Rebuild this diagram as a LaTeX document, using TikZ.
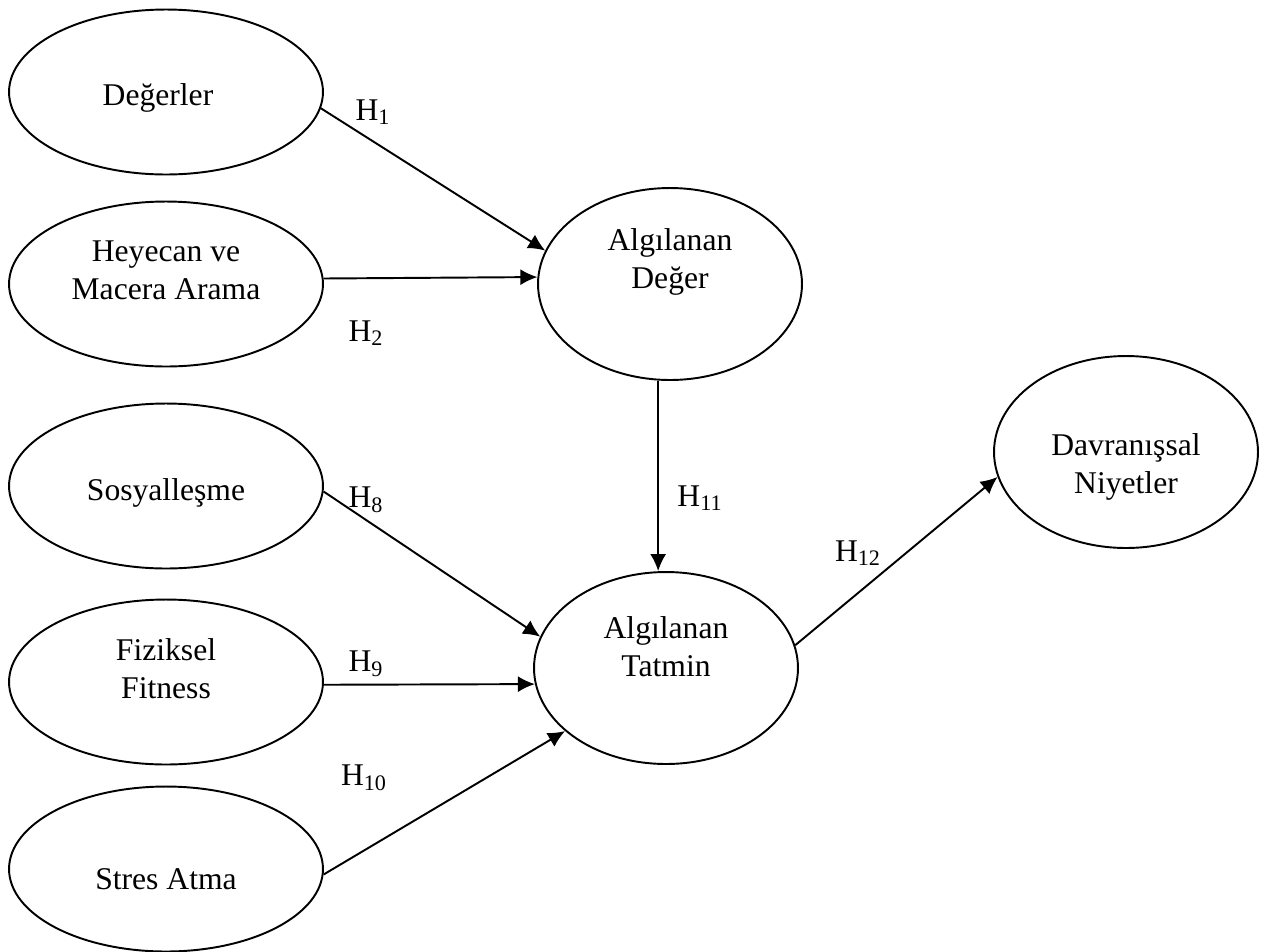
\documentclass[tikz,border=0pt]{standalone}
\usepackage{fontspec}
\setmainfont{Liberation Serif}
\usetikzlibrary{shapes.geometric,arrows.meta}

\begin{document}
\begin{tikzpicture}[x=0.02cm, y=-0.02cm, line width=1.1pt,
  kavram/.style={draw, ellipse, inner sep=0pt, minimum width=6.28cm, minimum height=3.3cm},
  sonuc/.style={draw, ellipse, inner sep=0pt, minimum width=5.28cm, minimum height=3.84cm},
  yazi/.style={align=center, inner sep=0pt, font=\fontsize{18}{21.6}\selectfont},
  etiket/.style={inner sep=0pt, font=\fontsize{18}{21.6}\selectfont},
  ok/.style={-{Latex[length=3.4mm,width=3.2mm]}}]

\useasboundingbox (0,0) rectangle (1271,951);

% left column
\node[kavram] (degerler) at (166,92) {};
\node[kavram] (heyecan) at (166,284) {};
\node[kavram] (sosyal) at (166,486) {};
\node[kavram] (fiziksel) at (166,682) {};
\node[kavram] (stres) at (166,869) {};

\node[yazi] (degerler-ad) at (158,98) {Değerler};
\node[yazi] (heyecan-ad) at (166,270) {Heyecan ve\\Macera Arama};
\node[yazi] (sosyal-ad) at (166,493) {Sosyalleşme};
\node[yazi] (fiziksel-ad) at (166,669) {Fiziksel\\Fitness};
\node[yazi] (stres-ad) at (166,879) {Stres Atma};

% right side
\node[sonuc] (deger) at (670,284) {};
\node[sonuc] (tatmin) at (666,668) {};
\node[sonuc] (davranis) at (1126,452) {};

\node[yazi] (deger-ad) at (670,262) {Algılanan\\Değer};
\node[yazi] (tatmin-ad) at (666,647) {Algılanan\\Tatmin};
\node[yazi] (davranis-ad) at (1126,467) {Davranışsal\\Niyetler};

% paths
\draw[ok] (degerler.-6) -- (deger.165);
\draw[ok] (heyecan.2.6) -- (deger.177);
\draw[ok] (deger.263) -- (deger.263 |- tatmin.north);
\draw[ok] (sosyal.-2.6) -- (tatmin.166);
\draw[ok] (fiziksel.-1) -- (tatmin.187);
\draw[ok] (stres.-2.6) -- (tatmin.212);
\draw[ok] (tatmin.10) -- (davranis.191);

\node[etiket] (h1) at (373,112) {H\textsubscript{1}};
\node[etiket] (h2) at (366,333) {H\textsubscript{2}};
\node[etiket] (h8) at (366,500) {H\textsubscript{8}};
\node[etiket] (h9) at (366,664) {H\textsubscript{9}};
\node[etiket] (h10) at (364,778) {H\textsubscript{10}};
\node[etiket] (h11) at (700,498) {H\textsubscript{11}};
\node[etiket] (h12) at (858,553) {H\textsubscript{12}};
\end{tikzpicture}
\end{document}
